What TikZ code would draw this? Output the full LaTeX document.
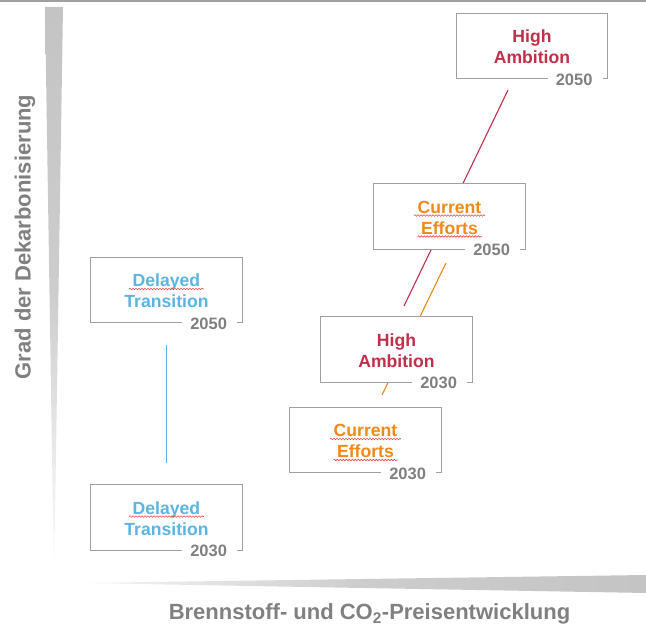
\documentclass[tikz,border=0pt]{standalone}
\usepackage{fontspec}
\setmainfont{Liberation Sans}
\usetikzlibrary{calc,decorations.pathmorphing}
\definecolor{hared}{HTML}{C0304A}
\definecolor{ceorange}{HTML}{EE8A1A}
\definecolor{dtblue}{HTML}{5BB5E3}
\definecolor{boxgray}{HTML}{A0A0A0}
\definecolor{yeargray}{HTML}{808080}
\definecolor{axgray}{HTML}{C4C4C4}
\definecolor{spellred}{HTML}{E84B4B}
\tikzset{
 scenframe/.style={minimum width=151pt, minimum height=65pt, inner sep=0pt, fill=white},
 boxline/.style={draw=boxgray, line width=1.3pt},
 scentext/.style={font=\bfseries\fontsize{17.6}{20}\selectfont, anchor=base, inner sep=0pt},
 yeartext/.style={font=\bfseries\fontsize{16.5}{20}\selectfont, text=yeargray, anchor=base east, inner sep=0pt},
 axislabel/.style={font=\bfseries\fontsize{22}{26}\selectfont, text=yeargray},
 link/.style={line width=1.1pt},
 spell/.style={draw=spellred, line width=0.6pt, decorate, decoration={snake, amplitude=0.8pt, segment length=3pt}},
}
\newcommand\scenbox[7]{%
 \node[scenframe] (#1) at (#2,#3) {};
 \node[scentext, text=#4] (#1a) at ($(#1.center)+(0,-3.5)$) {#5};
 \node[scentext, text=#4] (#1b) at ($(#1.center)+(0,17.5)$) {#6};
 \node[yeartext] (#1y) at ($(#1.south east)+(-15,6.5)$) {#7};
 \draw[boxline] ($(#1y.west |- #1.south)+(-8,0)$) -- (#1.south west) -- (#1.north west) -- (#1.north east) -- (#1.south east) -- ++(-5,0);
}
\newcommand\spellmark[1]{%
 \draw[spell] ($(#1.base west)+(-3.5,2.5)$) -- ($(#1.base east)+(3.5,2.5)$);
}
\begin{document}
\begin{tikzpicture}[x=1pt,y=-1pt]
\useasboundingbox (0,0) rectangle (646,626);
% top rule
\fill[boxgray] (0,0) rectangle (646,2);
% axes
\shade[top color=axgray, bottom color=white, middle color=axgray!85] (45,7) -- (63,7) -- (54,580) -- cycle;
\shade[left color=axgray!15, right color=axgray, middle color=axgray!85] (80,583) -- (646,575) -- (646,593) -- cycle;
\node[axislabel, rotate=90] (ylab) at (25,237) {Grad der Dekarbonisierung};
\node[axislabel] (xlab) at (369.5,614) {Brennstoff- und CO\textsubscript{2}-Preisentwicklung};
% connectors
\coordinate (haLo) at (404,306); \coordinate (haHi) at (508,90);
\coordinate (ceLo) at (382,395); \coordinate (ceHi) at (446,263);
\coordinate (dtLo) at (166,463); \coordinate (dtHi) at (166,345);
\draw[link, draw=hared] (haLo) -- (haHi);
\draw[link, draw=ceorange] (ceLo) -- (ceHi);
\draw[link, draw=dtblue, line width=1pt] (dtLo) -- (dtHi);
% scenario boxes
\scenbox{ha50}{532}{46}{hared}{High}{Ambition}{2050}
\scenbox{ce50}{449.5}{216.5}{ceorange}{Current}{Efforts}{2050}
\scenbox{dt50}{166.5}{290}{dtblue}{Delayed}{Transition}{2050}
\scenbox{ha30}{396.5}{349.5}{hared}{High}{Ambition}{2030}
\scenbox{ce30}{365.5}{440}{ceorange}{Current}{Efforts}{2030}
\scenbox{dt30}{166.5}{517.5}{dtblue}{Delayed}{Transition}{2030}
% spell-check underlines
\spellmark{ce50a}\spellmark{ce50b}
\spellmark{ce30a}\spellmark{ce30b}
\spellmark{dt50a}\spellmark{dt30a}
\end{tikzpicture}
\end{document}
